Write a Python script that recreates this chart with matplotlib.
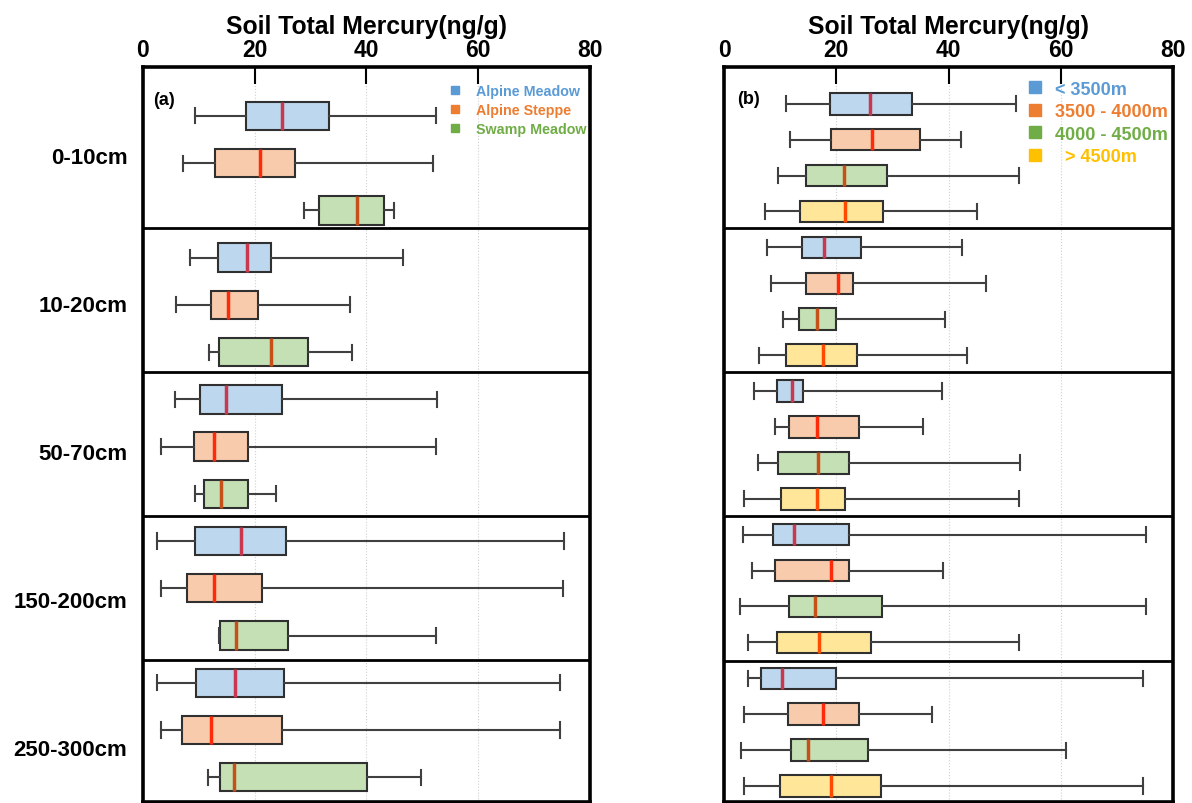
import matplotlib
matplotlib.use("Agg")
import matplotlib.pyplot as plt
from matplotlib.lines import Line2D

plt.rcParams['font.family'] = ['Liberation Sans', 'DejaVu Sans']

depths = ["0-10cm", "10-20cm", "50-70cm", "150-200cm", "250-300cm"]

# each row: (whisker low, Q1, median, Q3, whisker high), one per depth
# panel (a): grassland type
alpine_meadow = [(9.3, 18.5, 24.9, 33.4, 52.4),
                 (8.5, 13.4, 18.7, 23.0, 46.6),
                 (5.7, 10.3, 14.9, 24.9, 52.7),
                 (2.6, 9.4, 17.6, 25.6, 75.3),
                 (2.6, 9.6, 16.5, 25.3, 74.6)]
alpine_steppe = [(7.2, 13.0, 21.0, 27.2, 51.9),
                 (5.9, 12.2, 15.3, 20.7, 37.0),
                 (3.3, 9.1, 12.8, 18.9, 52.5),
                 (3.2, 7.9, 12.8, 21.3, 75.2),
                 (3.3, 7.0, 12.2, 25.0, 74.6)]
swamp_meadow = [(28.9, 31.6, 38.4, 43.1, 45.0),
                (11.8, 13.7, 23.0, 29.5, 37.4),
                (9.3, 10.9, 14.0, 18.8, 23.9),
                (13.6, 13.8, 16.7, 25.9, 52.4),
                (11.7, 13.9, 16.4, 40.2, 49.7)]

# panel (b): altitude
below_3500 = [(11.1, 18.9, 26.0, 33.5, 52.1),
              (7.7, 13.9, 17.8, 24.4, 42.4),
              (5.3, 9.5, 12.2, 14.0, 38.9),
              (3.4, 8.8, 12.5, 22.2, 75.1),
              (4.2, 6.6, 10.3, 20.0, 74.6)]
from_3500_4000 = [(11.8, 19.0, 26.3, 35.0, 42.3),
                  (8.4, 14.6, 20.3, 22.9, 46.7),
                  (9.0, 11.6, 16.5, 24.1, 35.4),
                  (4.9, 9.1, 19.1, 22.2, 39.1),
                  (3.6, 11.4, 17.7, 24.1, 37.1)]
from_4000_4500 = [(9.6, 14.6, 21.4, 29.0, 52.6),
                  (10.5, 13.3, 16.5, 19.9, 39.4),
                  (6.1, 9.6, 16.7, 22.3, 52.7),
                  (2.9, 11.5, 16.2, 28.2, 75.2),
                  (3.0, 11.9, 15.0, 25.7, 60.9)]
above_4500 = [(7.3, 13.6, 21.6, 28.4, 45.1),
              (6.2, 11.0, 17.7, 23.7, 43.3),
              (3.6, 10.2, 16.6, 21.5, 52.6),
              (4.2, 9.5, 16.9, 26.2, 52.5),
              (3.6, 9.9, 19.1, 28.0, 74.6)]

labels_a = ["Alpine Meadow", "Alpine Steppe", "Swamp Meadow"]
labels_b = ["< 3500m", "3500 - 4000m", "4000 - 4500m", "  > 4500m"]

fills = ["#BDD7EE", "#F8CBAD", "#C5E0B4", "#FFE699"]
medcols = ["#C8384F", "#FF2A0A", "#C5501A", "#FF4A00"]
keycols = ["#5B9BD5", "#ED7D31", "#70AD47", "#FFC000"]

fig = plt.figure(figsize=(11.92, 8.04), dpi=100)
ax_a = fig.add_axes([0.1197, 0.0015, 0.3753, 0.9142])
ax_b = fig.add_axes([0.6074, 0.0015, 0.3767, 0.9142])


def draw_panel(ax, series, capw, sep0, sep_step):
    n = len(series)
    for s, data in enumerate(series):
        stats = [dict(whislo=d[0], q1=d[1], med=d[2], q3=d[3], whishi=d[4], fliers=[])
                 for d in data]
        pos = [g * n + s for g in range(len(data))]
        ax.bxp(stats, positions=pos, orientation='horizontal', widths=0.6,
               capwidths=capw, patch_artist=True, showfliers=False,
               boxprops=dict(facecolor=fills[s], edgecolor='#303030', linewidth=1.5),
               whiskerprops=dict(color='#404040', linewidth=1.5),
               capprops=dict(color='#404040', linewidth=1.5),
               medianprops=dict(color=medcols[s], linewidth=2.5))
    # group separators
    for g in range(len(depths) - 1):
        ax.axhline(sep0 + sep_step * g, color='black', lw=2)
    ax.set_xlim(0, 80)
    ax.set_xticks([0, 20, 40, 60, 80])
    ax.xaxis.tick_top()
    ax.xaxis.set_label_position('top')
    ax.tick_params(axis='x', direction='in', length=12, width=1.5, pad=4,
                   labelsize=16.5)
    for t in ax.get_xticklabels():
        t.set_fontweight('bold')
    ax.set_xlabel("Soil Total Mercury(ng/g)", fontsize=17.8, fontweight='bold',
                  labelpad=4)
    ax.grid(axis='x', linestyle=':', color='#d0d0d0', lw=0.8)
    ax.set_axisbelow(True)
    for sp in ax.spines.values():
        sp.set_linewidth(2.6)


draw_panel(ax_a, [alpine_meadow, alpine_steppe, swamp_meadow], 0.32, 2.37, 3.05)
draw_panel(ax_b, [below_3500, from_3500_4000, from_4000_4500, above_4500], 0.42,
           3.45, 4.02)

ax_a.set_ylim(14.52, -1.04)
ax_b.set_ylim(19.44, -1.03)

ax_a.set_yticks([0.83 + 3.13 * g for g in range(len(depths))])
ax_a.set_yticklabels(depths, fontsize=16, fontweight='bold')
ax_a.tick_params(axis='y', length=0, pad=11)
ax_b.set_yticks([])

ax_a.text(0.023, 0.955, "(a)", transform=ax_a.transAxes, fontsize=13,
          fontweight='bold', va='center')
ax_b.text(0.03, 0.957, "(b)", transform=ax_b.transAxes, fontsize=13,
          fontweight='bold', va='center')

h_a = [Line2D([], [], marker='s', linestyle='', color=keycols[i], markersize=6)
       for i in range(3)]
ax_a.legend(h_a, labels_a, loc='upper left', bbox_to_anchor=(0.683, 0.976),
            frameon=False, labelcolor=keycols[:3],
            handlelength=1.0, handletextpad=0.95, borderpad=0, borderaxespad=0,
            labelspacing=0.32, prop=dict(weight='bold', size=10.3))

h_b = [Line2D([], [], marker='s', linestyle='', color=keycols[i], markersize=8)
       for i in range(4)]
ax_b.legend(h_b, labels_b, loc='upper left', bbox_to_anchor=(0.673, 0.981),
            frameon=False, labelcolor=keycols, handlelength=1.0,
            handletextpad=0.6, borderpad=0, borderaxespad=0, labelspacing=0.3,
            prop=dict(weight='bold', size=13))

fig.savefig("out.png", dpi=100)
